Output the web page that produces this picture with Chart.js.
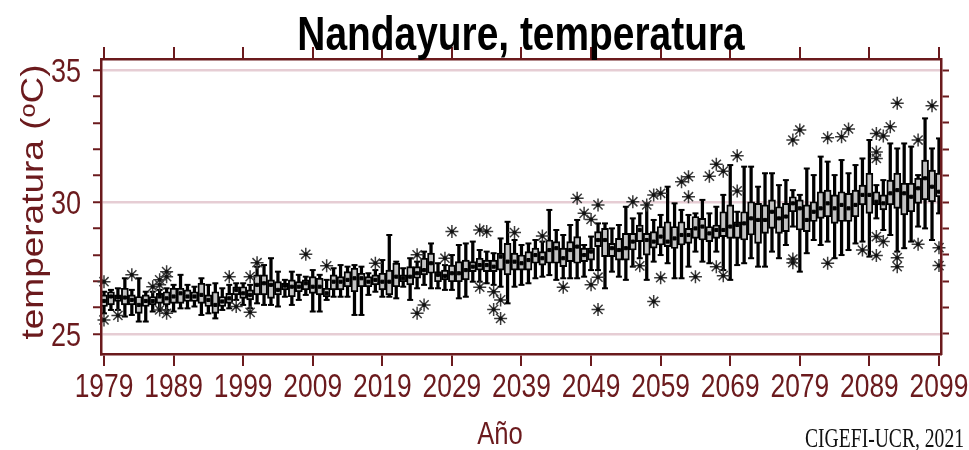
<!DOCTYPE html>
<html>
<head>
<meta charset="utf-8">
<script src="https://cdn.jsdelivr.net/npm/chart.js@4.4.1/dist/chart.umd.min.js"></script>
<style>
  html, body { margin: 0; padding: 0; background: #fff; }
  #wrap { position: relative; width: 969px; height: 450px; }
  #grafico { display: block; }
  #credito {
    position: absolute; left: 805px; top: 424px;
    font: 28px/28px 'Liberation Serif', 'Times New Roman', serif;
    transform: scaleX(0.7); transform-origin: 0 0;
    white-space: nowrap; color: #111;
  }
</style>
</head>
<body>
<div id="wrap">
  <canvas id="grafico" width="969" height="450"></canvas>
  <div id="credito">CIGEFI-UCR, 2021</div>
</div>
<script>
// años 1979..2099
const years = Array.from({ length: 121 }, (_, i) => 1979 + i);
const tickYears = [1979, 1989, 1999, 2009, 2019, 2029, 2039, 2049, 2059, 2069, 2079, 2089, 2099];
const yTickValues = [25, 26, 27, 28, 29, 30, 31, 32, 33, 34, 35];
const yLabels = [25, 30, 35];

const titulo = "Nandayure, temperatura";
const tituloX = "Año";
const tituloY = "temperatura (ᵒC)";

// bigotes y cajas por año (°C)
const whiskLo = [
  25.78, 25.91, 25.91, 25.66, 25.72, 25.47, 25.47, 25.85, 25.97, 25.91,
  25.85, 25.97, 25.97, 26.04, 25.72, 25.78, 25.59, 25.91, 25.97, 26.29,
  26.10, 25.97, 26.16, 26.10, 26.10, 26.04, 26.41, 26.10, 26.29, 26.48,
  25.85, 25.85, 26.29, 26.41, 26.41, 26.41, 25.72, 25.72, 26.48, 26.60,
  26.41, 26.41, 26.35, 26.79, 26.29, 26.73, 26.86, 26.73, 26.73, 26.67,
  26.67, 26.35, 26.41, 26.98, 26.98, 26.92, 26.86, 26.79, 26.16, 26.79,
  26.86, 26.92, 27.11, 27.17, 27.23, 27.05, 27.11, 27.11, 27.11, 27.17,
  27.42, 27.42, 26.73, 27.36, 27.17, 27.05, 27.55, 27.87, 27.05, 27.74,
  27.99, 27.68, 27.11, 27.11, 27.55, 28.12, 27.74, 27.68, 28.12, 27.42,
  27.05, 27.61, 27.68, 27.87, 27.55, 27.55, 28.12, 27.87, 28.37, 29.07,
  27.36, 28.06, 28.56, 28.37, 28.50, 27.87, 27.99, 28.18, 28.43, 28.50,
  27.93, 29.38, 28.94, 28.75, 28.12, 28.25, 28.50, 29.07, 29.00, 28.56,
  29.57
];
const q1 = [
  26.04, 26.10, 26.23, 26.10, 26.10, 25.78, 26.04, 26.10, 26.16, 26.10,
  26.16, 26.16, 26.23, 26.23, 26.16, 26.04, 25.78, 26.04, 26.16, 26.48,
  26.35, 26.29, 26.48, 26.48, 26.35, 26.48, 26.67, 26.41, 26.60, 26.67,
  26.54, 26.48, 26.41, 26.67, 26.67, 26.79, 26.60, 26.79, 26.79, 26.86,
  26.67, 26.48, 26.79, 26.98, 26.86, 27.11, 27.24, 27.30, 26.98, 27.05,
  26.98, 26.98, 27.05, 27.36, 27.42, 27.36, 27.36, 27.42, 27.24, 27.42,
  27.42, 27.42, 27.68, 27.61, 27.68, 27.68, 27.55, 27.74, 27.68, 27.74,
  27.80, 28.31, 27.93, 27.93, 27.80, 27.80, 28.18, 28.50, 27.99, 28.25,
  28.37, 28.31, 28.24, 28.37, 28.43, 28.62, 28.56, 28.50, 28.62, 28.69,
  28.62, 28.62, 28.56, 28.75, 28.43, 28.81, 29.00, 28.81, 28.88, 29.63,
  28.94, 28.88, 29.26, 29.38, 29.44, 29.19, 29.26, 29.26, 29.44, 29.89,
  29.57, 29.89, 29.70, 29.89, 29.76, 29.51, 29.63, 29.95, 30.08, 30.01,
  30.20
];
const med = [
  26.25, 26.42, 26.38, 26.38, 26.29, 26.10, 26.25, 26.25, 26.42, 26.35,
  26.42, 26.54, 26.42, 26.42, 26.48, 26.29, 26.10, 26.23, 26.35, 26.67,
  26.54, 26.48, 26.86, 26.92, 26.86, 26.67, 26.83, 26.79, 26.79, 26.92,
  26.79, 26.79, 26.54, 26.98, 26.98, 27.05, 27.11, 27.11, 26.98, 27.05,
  26.98, 26.98, 27.17, 27.11, 27.17, 27.30, 27.42, 27.68, 27.24, 27.20,
  27.30, 27.30, 27.42, 27.55, 27.61, 27.61, 27.55, 27.93, 27.74, 27.74,
  27.68, 27.80, 27.99, 27.87, 28.18, 28.25, 27.87, 28.18, 28.31, 27.99,
  28.12, 28.56, 28.56, 28.25, 28.18, 28.25, 28.50, 28.94, 28.56, 28.50,
  28.69, 28.50, 28.62, 28.75, 28.75, 29.00, 29.07, 28.81, 28.94, 28.94,
  29.07, 29.13, 29.19, 29.38, 29.32, 29.32, 29.63, 29.38, 29.45, 29.95,
  29.76, 29.32, 29.63, 29.76, 29.95, 29.76, 29.89, 29.76, 29.89, 30.27,
  30.27, 30.01, 29.95, 30.33, 30.45, 30.33, 30.20, 30.52, 30.90, 30.58,
  30.39
];
const q3 = [
  26.48, 26.60, 26.48, 26.73, 26.48, 26.42, 26.48, 26.42, 26.54, 26.60,
  26.73, 26.73, 26.67, 26.60, 26.92, 26.48, 26.60, 26.42, 26.54, 26.79,
  26.79, 26.67, 27.24, 27.24, 27.05, 26.98, 26.92, 27.05, 26.98, 27.05,
  27.17, 27.11, 26.73, 27.24, 27.17, 27.36, 27.49, 27.30, 27.17, 27.24,
  27.30, 27.42, 27.68, 27.24, 27.55, 27.55, 27.87, 28.06, 27.36, 27.42,
  27.61, 27.74, 27.80, 27.74, 27.87, 27.80, 27.80, 28.06, 28.43, 28.06,
  27.99, 28.12, 28.25, 28.12, 28.56, 28.50, 28.25, 28.50, 28.69, 28.25,
  28.25, 28.88, 29.00, 28.43, 28.62, 28.81, 28.81, 29.13, 28.81, 28.88,
  29.07, 29.25, 29.07, 29.25, 29.00, 29.45, 29.38, 29.07, 29.13, 29.63,
  29.89, 29.25, 29.63, 30.01, 29.95, 29.89, 30.08, 29.82, 29.95, 30.20,
  30.08, 29.89, 30.01, 30.39, 30.45, 30.27, 30.39, 30.33, 30.45, 30.64,
  31.09, 30.39, 30.27, 30.83, 31.09, 30.71, 30.71, 30.90, 31.59, 31.21,
  31.09
];
const whiskHi = [
  26.60, 26.67, 26.73, 27.11, 26.67, 27.11, 26.60, 26.60, 26.67, 26.73,
  26.86, 27.24, 26.86, 26.79, 27.11, 26.86, 26.92, 26.73, 26.86, 26.92,
  26.92, 26.86, 27.55, 27.61, 27.87, 27.36, 27.05, 27.36, 27.24, 27.17,
  27.42, 27.24, 27.05, 27.49, 27.61, 27.55, 27.61, 27.55, 27.30, 27.42,
  27.80, 28.75, 27.74, 27.49, 27.87, 27.74, 28.12, 28.43, 27.68, 27.61,
  27.99, 28.37, 28.43, 28.50, 28.18, 28.12, 28.06, 28.62, 29.25, 28.56,
  28.37, 28.43, 28.56, 28.50, 29.70, 28.94, 28.75, 29.13, 29.32, 28.37,
  28.69, 29.19, 29.19, 29.00, 29.13, 29.82, 29.38, 29.57, 29.95, 29.32,
  29.51, 30.58, 29.95, 29.70, 29.51, 29.57, 30.08, 29.57, 29.82, 30.27,
  31.40, 29.63, 31.34, 31.34, 30.58, 31.09, 31.09, 30.64, 30.83, 30.45,
  30.27, 31.27, 31.02, 31.72, 31.53, 31.02, 31.59, 31.09, 31.40, 31.65,
  32.35, 30.64, 30.83, 32.22, 32.03, 32.22, 32.10, 31.02, 33.17, 32.03,
  32.41
];

// valores atípicos (asteriscos)
const outYears = [
  1979, 1979, 1981, 1983, 1986, 1987, 1987, 1987, 1988, 1988, 1988, 1997, 1998, 2000, 2000,
  2001, 2008, 2011, 2018, 2024, 2024, 2025, 2028, 2029, 2033, 2033, 2034, 2035, 2035, 2036,
  2036, 2038, 2042, 2045, 2047, 2048, 2049, 2049, 2050, 2050, 2050, 2055, 2056, 2057, 2058,
  2058, 2059, 2059, 2062, 2063, 2063, 2064, 2066, 2067, 2067, 2068, 2068, 2070, 2070, 2078,
  2078, 2078, 2079, 2083, 2083, 2085, 2086, 2088, 2090, 2090, 2090, 2090, 2090, 2091, 2091,
  2092, 2093, 2093, 2093, 2096, 2096, 2098, 2099, 2099
];
const outTemps = [
  26.98, 25.53, 25.70, 27.24, 26.79, 27.05, 26.86, 25.91, 27.36, 27.17, 25.78, 27.17, 26.04, 27.17, 25.82,
  27.70, 28.02, 27.58, 27.68, 28.00, 25.78, 26.10, 27.87, 28.88, 28.94, 26.77, 28.88, 26.60, 25.93, 26.29,
  25.59, 28.84, 28.71, 26.77, 30.14, 29.57, 29.34, 26.86, 29.89, 27.15, 25.93, 30.01, 27.58, 29.89, 30.27,
  26.23, 30.33, 27.13, 30.77, 30.96, 30.20, 27.17, 30.98, 31.43, 27.55, 31.17, 27.21, 31.75, 30.42, 32.35,
  27.84, 27.70, 32.73, 32.44, 27.68, 32.47, 32.77, 28.18, 32.60, 31.90, 31.65, 28.69, 27.97, 32.50, 28.50,
  32.85, 33.74, 27.89, 27.55, 32.35, 28.40, 33.65, 28.27, 27.59
];

const GUINDA = "#6b1a1d";
const GRILLA = "#e6cdd4";
const SANS = "'Liberation Sans', Arial, sans-serif";

// textos del eje dibujados algo angostos, como en el original
const etiquetas = {
  id: "etiquetas",
  afterDraw(chart) {
    const { ctx, chartArea } = chart;
    const sx = chart.scales.x;
    const sy = chart.scales.y;
    const texto = (txt, px, py, o) => {
      ctx.save();
      ctx.translate(px, py);
      if (o.rot) ctx.rotate(o.rot);
      ctx.scale(o.kx || 1, o.ky || 1);
      ctx.font = o.font;
      ctx.fillStyle = o.color;
      ctx.textAlign = o.align || "center";
      ctx.textBaseline = "alphabetic";
      ctx.fillText(txt, 0, 0);
      ctx.restore();
    };
    const centroX = (chartArea.left + chartArea.right) / 2;

    texto(titulo, centroX, 50, { font: "bold 48px " + SANS, color: "#000", kx: 0.81 });

    tickYears.forEach(v => {
      texto(String(v), sx.getPixelForValue(v), 397, { font: "33px " + SANS, color: GUINDA, kx: 0.8 });
    });
    yLabels.forEach(v => {
      texto(String(v), 81, sy.getPixelForValue(v) + 12, { font: "33px " + SANS, color: GUINDA, kx: 0.82, align: "right" });
    });

    texto(tituloX, centroX - 21, 444, { font: "32px " + SANS, color: GUINDA, kx: 0.8 });
    texto(tituloY, 43, 202, { font: "37px " + SANS, color: GUINDA, rot: -Math.PI / 2, ky: 0.85 });
  },
};

document.addEventListener("DOMContentLoaded", () => {
  const ctx = document.getElementById("grafico").getContext("2d");

  const bigotes = years.map((y, i) => ({ x: y, y: [whiskLo[i], whiskHi[i]] }));
  const cajas = years.map((y, i) => ({ x: y, y: [q1[i], q3[i]] }));
  const medianas = years.map((y, i) => ({ x: y, y: med[i] }));
  const topes = years.flatMap((y, i) => [{ x: y, y: whiskLo[i] }, { x: y, y: whiskHi[i] }]);
  const atipicos = outYears.map((y, i) => ({ x: y, y: outTemps[i] }));

  const fijarTicksX = (axis) => { axis.ticks = tickYears.map(v => ({ value: v })); };
  const fijarTicksY = (axis) => { axis.ticks = yTickValues.map(v => ({ value: v })); };

  const ejeX = (pos) => ({
    type: "linear", position: pos, min: 1978.57, max: 2099.29, offset: false,
    afterBuildTicks: fijarTicksX,
    afterFit: (axis) => { axis.height = 12; },
    grid: { offset: false, drawOnChartArea: false, tickLength: 12, color: GUINDA, lineWidth: 2 },
    border: { color: GUINDA, width: 2.5, z: 1 },
    ticks: { display: false },
  });

  new Chart(ctx, {
    type: "bar",
    data: {
      datasets: [
        { type: "bar", data: bigotes, backgroundColor: "#000", barThickness: 2.6, grouped: false, order: 5 },
        {
          type: "bar", data: cajas, backgroundColor: "#c2c2c2", borderColor: "#000",
          borderWidth: 1.9, borderSkipped: false, barThickness: 7, grouped: false, order: 4
        },
        { type: "scatter", data: topes, pointStyle: "line", pointRadius: 3, borderColor: "#000", borderWidth: 2, order: 3 },
        { type: "scatter", data: medianas, pointStyle: "rect", pointRadius: 2.2, backgroundColor: "#000", borderColor: "#000", borderWidth: 1, order: 2 },
        { type: "scatter", data: atipicos, pointStyle: "star", pointRadius: 6.5, borderColor: "#3a3a3a", borderWidth: 1.5, clip: false, order: 1 },
        { type: "scatter", data: atipicos, pointStyle: "circle", pointRadius: 2, backgroundColor: "#111", borderWidth: 0, clip: false, order: 0 },
      ],
    },
    options: {
      responsive: false,
      animation: false,
      devicePixelRatio: 1,
      events: [],
      layout: { padding: { left: 93, right: 20, top: 47, bottom: 84 } },
      scales: {
        x: ejeX("bottom"),
        x2: ejeX("top"),
        y: {
          position: "left", min: 24.24, max: 35.42,
          afterBuildTicks: fijarTicksY,
          afterFit: (axis) => { axis.width = 8; },
          grid: {
            color: c => (c.tick && yLabels.includes(c.tick.value)) ? GRILLA : "rgba(0,0,0,0)",
            lineWidth: 2.5, tickColor: GUINDA, tickWidth: 2, tickLength: 8,
          },
          border: { color: GUINDA, width: 2.5, z: 1 },
          ticks: { display: false },
        },
        y2: {
          position: "right", min: 24.24, max: 35.42,
          afterBuildTicks: fijarTicksY,
          afterFit: (axis) => { axis.width = 8; },
          grid: { drawOnChartArea: false, color: GUINDA, tickWidth: 2, tickLength: 8 },
          border: { color: GUINDA, width: 2.5, z: 1 },
          ticks: { display: false },
        },
      },
      plugins: {
        legend: { display: false },
        tooltip: { enabled: false },
        title: { display: false },
      },
    },
    plugins: [etiquetas],
  });
});
</script>
</body>
</html>
